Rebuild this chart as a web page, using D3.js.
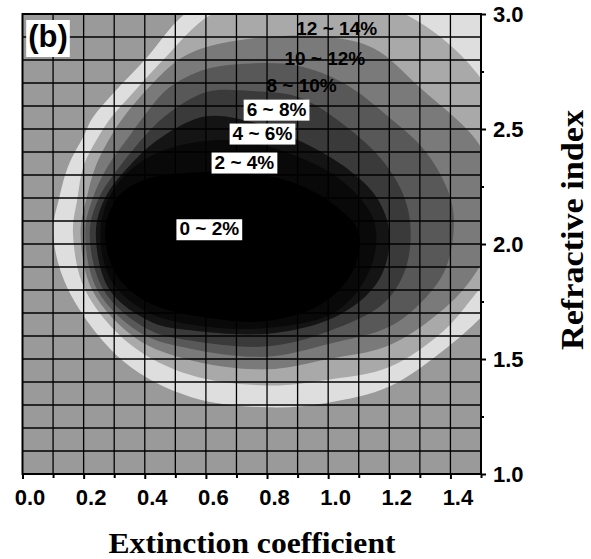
<!DOCTYPE html>
<html>
<head>
<meta charset="utf-8">
<script src="https://cdn.jsdelivr.net/npm/d3@7"></script>
<style>
  html, body { margin: 0; padding: 0; background: #fff; }
  svg { display: block; }
  .tick text { font-family: "Liberation Sans", Arial, sans-serif; font-weight: bold; font-size: 22px; fill: #000; }
  .tick line { stroke: #000; stroke-width: 2; }
  .band-label { font-family: "Liberation Sans", Arial, sans-serif; font-weight: bold; font-size: 19px; }
  .axis-title { font-family: "Liberation Serif", "Times New Roman", serif; font-weight: bold; }
</style>
</head>
<body>
<div id="chart"></div>
<script>
// error levels (%) bounding each band, outermost first
const levels = [16, 14, 12, 10, 8, 6, 4, 2];
const bandFills = ['#dedede', '#a9a9a9', '#7a7a7a', '#585858', '#3a3a3a', '#141414', '#090909', '#000000'];
const outsideFill = '#9a9a9a';

// level boundaries as [extinction coefficient, refractive index]
const contour16 = [[0.10,2.05],[0.12,2.2],[0.15,2.34],[0.20,2.47],[0.23,2.55],[0.30,2.66],[0.40,2.8],[0.53,3.0],[0.75,3.18],[1.05,3.22],[1.4,3.12],[1.62,2.9],[1.72,2.5],[1.72,2.1],[1.62,1.85],[1.5,1.68],[1.38,1.54],[1.2,1.38],[1.0,1.31],[0.8,1.29],[0.55,1.335],[0.33,1.49],[0.15,1.8]];
const contour14 = [[0.165,2.05],[0.18,2.2],[0.20,2.34],[0.25,2.47],[0.29,2.55],[0.35,2.64],[0.46,2.8],[0.62,3.0],[0.9,3.1],[1.25,3.0],[1.5,2.72],[1.6,2.4],[1.62,2.05],[1.57,1.9],[1.5,1.81],[1.38,1.625],[1.2,1.465],[1.0,1.41],[0.8,1.385],[0.55,1.43],[0.353,1.563],[0.205,1.8]];
const contour12 = [[0.19,2.05],[0.21,2.2],[0.24,2.34],[0.29,2.47],[0.33,2.55],[0.42,2.69],[0.51,2.8],[0.6,2.855],[0.8,2.9],[1.0,2.9],[1.15,2.85],[1.3,2.68],[1.5,2.42],[1.54,2.2],[1.53,2.0],[1.47,1.85],[1.38,1.72],[1.2,1.56],[1.0,1.5],[0.8,1.455],[0.55,1.495],[0.372,1.589],[0.228,1.8]];
const contour10 = [[0.205,2.05],[0.23,2.2],[0.28,2.34],[0.35,2.47],[0.40,2.56],[0.48,2.68],[0.6,2.76],[0.75,2.785],[0.9,2.775],[1.05,2.7],[1.2,2.55],[1.32,2.4],[1.4,2.2],[1.41,2.05],[1.38,1.88],[1.3,1.74],[1.2,1.64],[1.0,1.565],[0.8,1.51],[0.55,1.545],[0.389,1.611],[0.245,1.8]];
const contour8 = [[0.22,2.05],[0.25,2.2],[0.32,2.34],[0.40,2.47],[0.47,2.56],[0.6,2.66],[0.75,2.665],[0.9,2.64],[1.05,2.52],[1.18,2.36],[1.25,2.2],[1.27,2.05],[1.25,1.88],[1.18,1.74],[1.0,1.62],[0.8,1.555],[0.55,1.58],[0.405,1.633],[0.265,1.8]];
const contour6 = [[0.24,2.05],[0.27,2.2],[0.35,2.34],[0.45,2.46],[0.6,2.555],[0.75,2.53],[0.92,2.44],[1.07,2.32],[1.16,2.2],[1.20,2.05],[1.18,1.88],[1.12,1.77],[1.0,1.67],[0.8,1.61],[0.55,1.625],[0.425,1.659],[0.285,1.8]];
const contour4 = [[0.255,2.05],[0.29,2.22],[0.38,2.35],[0.52,2.43],[0.7,2.45],[0.88,2.39],[1.05,2.27],[1.15,2.1],[1.14,1.9],[1.03,1.71],[0.8,1.635],[0.55,1.65],[0.40,1.71],[0.29,1.84]];
const contour2 = [[0.27,2.05],[0.31,2.2],[0.40,2.28],[0.55,2.31],[0.7,2.31],[0.88,2.27],[1.02,2.17],[1.10,2.05],[1.08,1.88],[0.98,1.74],[0.8,1.665],[0.6,1.68],[0.42,1.74],[0.31,1.86]];
const contours = [contour16, contour14, contour12, contour10, contour8, contour6, contour4, contour2];

// band labels
const labelTexts = ['0 ~ 2%', '2 ~ 4%', '4 ~ 6%', '6 ~ 8%', '8 ~ 10%', '10 ~ 12%', '12 ~ 14%'];
const labelK = [0.611, 0.726, 0.785, 0.831, 0.913, 0.989, 1.028];
const labelN = [2.067, 2.357, 2.483, 2.587, 2.691, 2.809, 2.939];
const labelBoxed = [true, true, true, true, false, false, false];

// axes
const xMajorTicks = [0, 0.2, 0.4, 0.6, 0.8, 1.0, 1.2, 1.4];
const xMinorTicks = [0.1, 0.3, 0.5, 0.7, 0.9, 1.1, 1.3, 1.5];
const yMajorTicks = [1.0, 1.5, 2.0, 2.5, 3.0];
const yMinorTicks = [1.25, 1.75, 2.25, 2.75];
const xGrid = d3.range(1, 15).map(i => i / 10);
const yGrid = d3.range(11, 30).map(i => i / 10);

const width = 591, height = 559;
const plot = { left: 22.5, right: 481, top: 14, bottom: 474 };

const svg = d3.select('#chart').append('svg')
    .attr('width', width)
    .attr('height', height);

const x = d3.scaleLinear().domain([0, 1.5]).range([plot.left, plot.right]);
const y = d3.scaleLinear().domain([1, 3]).range([plot.bottom, plot.top]);

svg.append('clipPath').attr('id', 'plot-clip')
  .append('rect')
    .attr('x', plot.left).attr('y', plot.top)
    .attr('width', plot.right - plot.left).attr('height', plot.bottom - plot.top);

const field = svg.append('g').attr('clip-path', 'url(#plot-clip)');

// background = everything above the outermost level
field.append('rect')
    .attr('x', plot.left).attr('y', plot.top)
    .attr('width', plot.right - plot.left).attr('height', plot.bottom - plot.top)
    .attr('fill', outsideFill);

const ring = d3.line()
    .x(d => x(d[0]))
    .y(d => y(d[1]))
    .curve(d3.curveCatmullRomClosed.alpha(0.5));

// nested regions, outermost drawn first
field.selectAll('path.band')
  .data(contours)
  .join('path')
    .attr('class', 'band')
    .attr('d', d => ring(d))
    .attr('fill', (d, i) => bandFills[i]);

// grid
field.selectAll('line.vgrid')
  .data(xGrid)
  .join('line')
    .attr('class', 'vgrid')
    .attr('x1', d => x(d)).attr('x2', d => x(d))
    .attr('y1', plot.top).attr('y2', plot.bottom)
    .attr('stroke', '#000').attr('stroke-width', 1.3);

field.selectAll('line.hgrid')
  .data(yGrid)
  .join('line')
    .attr('class', 'hgrid')
    .attr('x1', plot.left).attr('x2', plot.right)
    .attr('y1', d => y(d)).attr('y2', d => y(d))
    .attr('stroke', '#000').attr('stroke-width', 1.3);

// band labels; the inner ones sit on white boxes
const labels = svg.append('g');
labelTexts.forEach((t, i) => {
  const g = labels.append('g');
  const txt = g.append('text')
      .attr('class', 'band-label')
      .attr('x', x(labelK[i]))
      .attr('y', y(labelN[i]))
      .attr('dy', '0.35em')
      .attr('text-anchor', 'middle')
      .text(t);
  if (labelBoxed[i]) {
    const bb = txt.node().getBBox();
    g.insert('rect', 'text')
        .attr('x', bb.x - 3).attr('y', bb.y + 1)
        .attr('width', bb.width + 6).attr('height', bb.height)
        .attr('fill', '#fff');
  }
});

// panel tag
const tag = svg.append('g');
const tagText = tag.append('text')
    .attr('x', 48).attr('y', 47)
    .attr('text-anchor', 'middle')
    .style('font-family', '"Liberation Sans", Arial, sans-serif')
    .style('font-weight', 'bold')
    .style('font-size', '31px')
    .text('(b)');
const tb = tagText.node().getBBox();
tag.insert('rect', 'text')
    .attr('x', tb.x - 2).attr('y', tb.y + 1)
    .attr('width', tb.width + 4).attr('height', tb.height + 2)
    .attr('fill', '#fff');

// frame
svg.append('rect')
    .attr('x', plot.left).attr('y', plot.top)
    .attr('width', plot.right - plot.left).attr('height', plot.bottom - plot.top)
    .attr('fill', 'none').attr('stroke', '#000').attr('stroke-width', 2);

// bottom axis
const xAxis = svg.append('g')
    .attr('transform', `translate(0,${plot.bottom})`)
    .call(d3.axisBottom(x).tickValues(xMajorTicks).tickSize(5).tickPadding(10).tickFormat(d3.format('.1f')));
xAxis.selectAll('text').attr('x', 7);
svg.append('g')
    .attr('transform', `translate(0,${plot.bottom})`)
    .call(d3.axisBottom(x).tickValues(xMinorTicks).tickSize(4).tickFormat(''));

// right axis
svg.append('g')
    .attr('transform', `translate(${plot.right},0)`)
    .call(d3.axisRight(y).tickValues(yMajorTicks).tickSize(5).tickPadding(7).tickFormat(d3.format('.1f')));
svg.append('g')
    .attr('transform', `translate(${plot.right},0)`)
    .call(d3.axisRight(y).tickValues(yMinorTicks).tickSize(3).tickFormat(''));

svg.selectAll('.domain').remove();

// axis titles
svg.append('text')
    .attr('class', 'axis-title')
    .attr('x', 252).attr('y', 553)
    .attr('text-anchor', 'middle')
    .style('font-size', '29px')
    .attr('textLength', 287)
    .attr('lengthAdjust', 'spacingAndGlyphs')
    .text('Extinction coefficient');

svg.append('text')
    .attr('class', 'axis-title')
    .attr('transform', 'translate(583,230) rotate(-90)')
    .attr('text-anchor', 'middle')
    .style('font-size', '32px')
    .attr('textLength', 240)
    .attr('lengthAdjust', 'spacingAndGlyphs')
    .text('Refractive index');
</script>
</body>
</html>
